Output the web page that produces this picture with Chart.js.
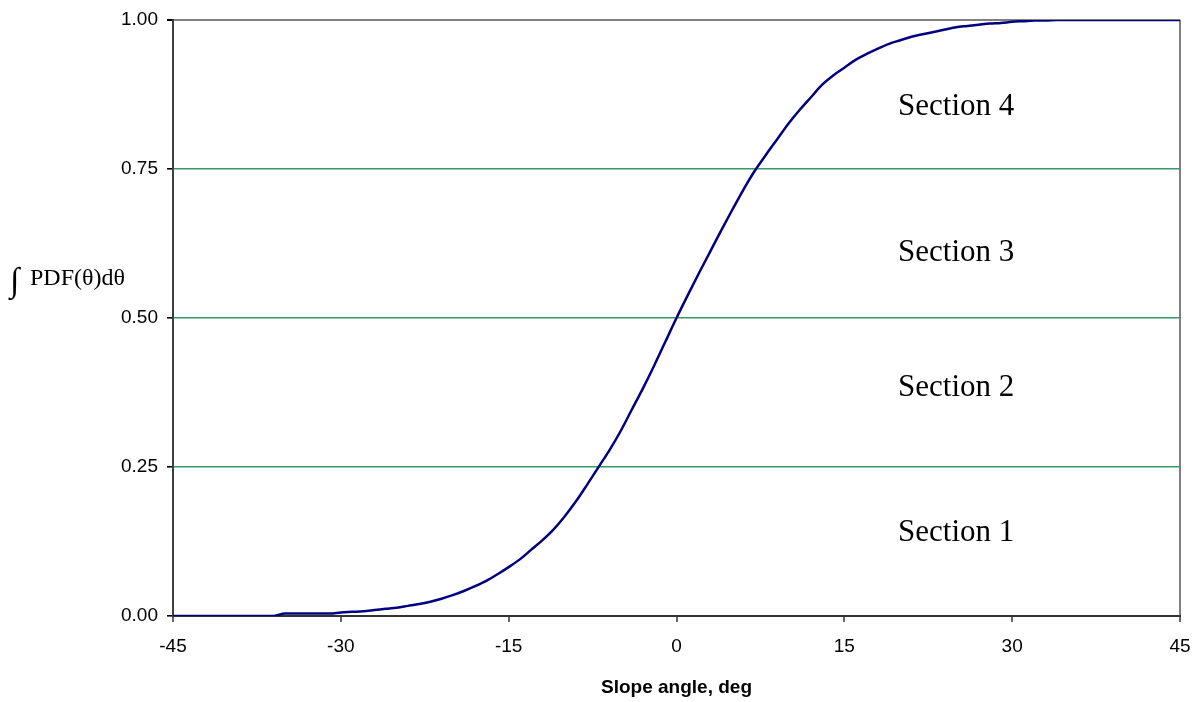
<!DOCTYPE html>
<html>
<head>
<meta charset="utf-8">
<script src="https://cdn.jsdelivr.net/npm/chart.js@4.4.1/dist/chart.umd.min.js"></script>
<style>
  html, body { margin: 0; padding: 0; background: #fff; }
  #wrap { position: relative; width: 1198px; height: 702px; }
</style>
</head>
<body>
<div id="wrap"><canvas id="c" width="1198" height="702"></canvas></div>
<script>
// ---- data ----
const angles = [
  -45,-44,-43,-42,-41,-40,-39,-38,-37,-36,
  -35,-34,-33,-32,-31,-30,-29,-28,-27,-26,
  -25,-24,-23,-22,-21,-20,-19,-18,-17,-16,
  -15,-14,-13,-12,-11,-10,-9,-8,-7,-6,
  -5,-4,-3,-2,-1,0,1,2,3,4,
  5,6,7,8,9,10,11,12,13,14,
  15,16,17,18,19,20,21,22,23,24,
  25,26,27,28,29,30,31,32,33,34,
  35,36,37,38,39,40,41,42,43,44,45
];
const cdfValues = [
  0,0,0,0,0,0,0,0,0,0,
  0.004,0.004,0.004,0.004,0.004,0.006,0.007,0.008,0.010,0.012,
  0.014,0.017,0.020,0.024,0.029,0.035,0.042,0.050,0.059,0.070,
  0.082,0.095,0.111,0.127,0.145,0.167,0.192,0.220,0.249,0.278,
  0.310,0.346,0.382,0.420,0.460,0.500,0.538,0.575,0.611,0.647,
  0.682,0.716,0.747,0.774,0.800,0.826,0.849,0.870,0.891,0.907,
  0.920,0.933,0.943,0.952,0.960,0.966,0.972,0.976,0.980,0.984,
  0.988,0.990,0.992,0.994,0.995,0.997,0.998,0.999,0.999,1.000,
  1.000,1.000,1.000,1.000,1.000,1.000,1.000,1.000,1.000,1.000,1.000
];
const xTicks = [-45, -30, -15, 0, 15, 30, 45];
const yTicks = [0, 0.25, 0.5, 0.75, 1.0];
const sectionNames = ["Section 1", "Section 2", "Section 3", "Section 4"];
const sectionLevels = [0.139, 0.383, 0.609, 0.854];
const sectionAngle = 25;
const xTitle = "Slope angle, deg";
const yTitleText = "PDF(\u03B8)d\u03B8";

// ---- chart ----
const points = angles.map((a, i) => ({ x: a, y: cdfValues[i] }));

const overlay = {
  id: 'overlay',
  afterDraw(chart) {
    const ctx = chart.ctx;
    const xs = chart.scales.x, ys = chart.scales.y;
    ctx.save();
    ctx.fillStyle = '#000';
    // section labels
    ctx.font = '31px "Liberation Serif", "Times New Roman", serif';
    ctx.textAlign = 'center';
    ctx.textBaseline = 'middle';
    sectionNames.forEach((s, i) => {
      ctx.fillText(s, xs.getPixelForValue(sectionAngle), ys.getPixelForValue(sectionLevels[i]));
    });
    // x title
    ctx.font = 'bold 19px "Liberation Sans", Arial, sans-serif';
    ctx.textAlign = 'center';
    ctx.textBaseline = 'middle';
    ctx.fillText(xTitle, (chart.chartArea.left + chart.chartArea.right) / 2, 688);
    // y title (horizontal)
    ctx.textAlign = 'left';
    ctx.textBaseline = 'alphabetic';
    ctx.font = '34px "Liberation Serif", "Times New Roman", serif';
    ctx.fillText('\u222B', 10, 291);
    ctx.font = '24px "Liberation Serif", "Times New Roman", serif';
    ctx.fillText(yTitleText, 30, 285);
    ctx.restore();
  }
};

new Chart(document.getElementById('c'), {
  type: 'line',
  data: {
    datasets: [{
      data: points,
      borderColor: '#000080',
      borderWidth: 2.5,
      pointRadius: 0,
      cubicInterpolationMode: 'monotone',
      fill: false
    }]
  },
  options: {
    responsive: false,
    animation: false,
    events: [],
    layout: { padding: { top: 20, right: 18, left: 0, bottom: 0 } },
    plugins: { legend: { display: false }, tooltip: { enabled: false } },
    scales: {
      x: {
        type: 'linear',
        min: -45, max: 45,
        afterBuildTicks: s => { s.ticks = xTicks.map(v => ({ value: v })); },
        afterFit: s => { s.height = 86; s.paddingLeft = 0; s.paddingRight = 0; },
        ticks: {
          color: '#000',
          font: { family: '"Liberation Sans", Arial, sans-serif', size: 19 },
          padding: 13,
          maxRotation: 0
        },
        grid: {
          color: c => (c.tick && c.tick.value === 45) ? '#808080' : 'rgba(0,0,0,0)',
          lineWidth: 2,
          tickColor: '#666',
          tickLength: 6,
          drawTicks: true
        },
        border: { display: true, color: '#333', width: 2 }
      },
      y: {
        type: 'linear',
        min: 0, max: 1,
        afterBuildTicks: s => { s.ticks = yTicks.map(v => ({ value: v })); },
        afterFit: s => { s.width = 173; s.paddingTop = 0; s.paddingBottom = 0; },
        ticks: {
          color: '#000',
          font: { family: '"Liberation Sans", Arial, sans-serif', size: 19 },
          padding: 9,
          callback: v => Number(v).toFixed(2)
        },
        grid: {
          color: c => {
            if (!c.tick) return 'rgba(0,0,0,0)';
            if (c.tick.value === 1) return '#808080';
            if (c.tick.value === 0) return 'rgba(0,0,0,0)';
            return '#339966';
          },
          lineWidth: c => (c.tick && c.tick.value === 1) ? 2 : 1.6,
          tickColor: '#000',
          tickLength: 6,
          drawTicks: true
        },
        border: { display: true, color: '#404040', width: 2 }
      }
    }
  },
  plugins: [overlay]
});
</script>
</body>
</html>
